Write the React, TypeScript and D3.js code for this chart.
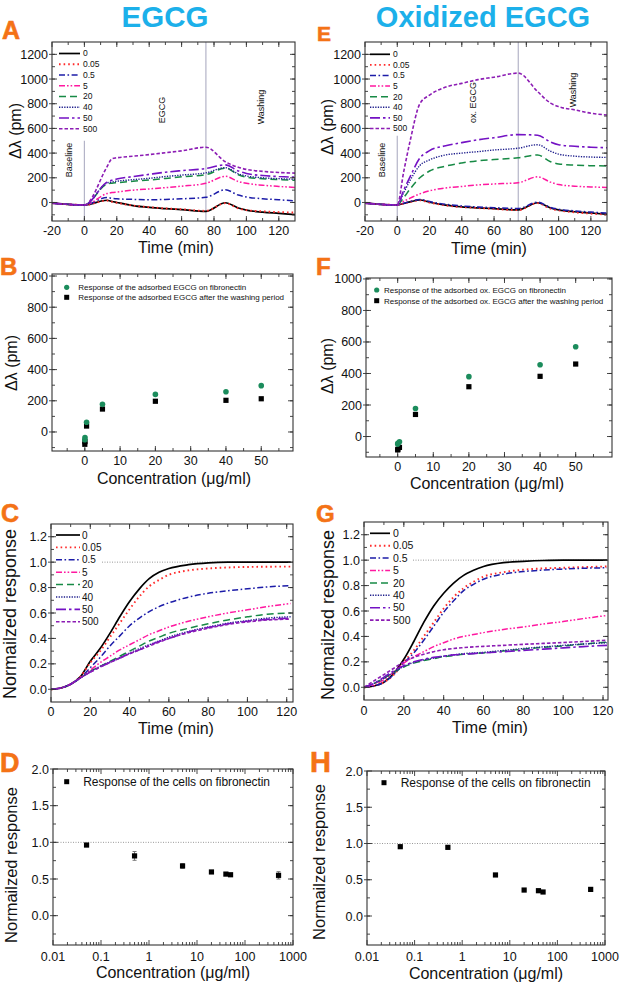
import React from 'react';
import * as d3 from 'd3';

const FONT = "'Liberation Sans', Arial, Helvetica, sans-serif";
const TITLE_COLOR = '#1cb0ea';
const LETTER_COLOR = '#f47216';

// ---- series styling (legend order) ----
const doseLabels = ['0', '0.05', '0.5', '5', '20', '40', '50', '500'];
const doseColors = ['#000000', '#ff2b2b', '#1c1ca8', '#ff18a0', '#178a45', '#1e1e8c', '#7412c4', '#8c1cb4'];
const doseDash = ['', '1.6,3', '6,2.5,1.6,2.5', '6,2,1.6,2,1.6,2', '7,4', '1.3,1.3', '10,3,2.5,3', '3.5,2'];
const doseWidth = [1.7, 1.9, 1.5, 1.5, 1.5, 1.4, 1.6, 1.6];

// ---- Panel A (EGCG, Δλ vs time) ----
const timeA = [-20, 0, 14, 17, 20, 30, 40, 50, 60, 75, 87, 95, 100, 110, 120, 130];
const a0 = [-5, -20, 18, 8, 0, -25, -40, -50, -58, -72, -2, -45, -62, -78, -88, -98];
const a005 = [-5, -20, 15, 6, -2, -25, -38, -48, -55, -68, -5, -48, -62, -72, -78, -82];
const a05 = [-5, -20, 40, 34, 30, 25, 22, 25, 30, 42, 103, 60, 45, 30, 22, 12];
const a5 = [-5, -20, 72, 80, 85, 100, 110, 120, 132, 155, 212, 170, 155, 140, 130, 122];
const a20 = [-5, -20, 150, 156, 160, 172, 182, 195, 208, 225, 278, 225, 205, 192, 185, 180];
const a40 = [-5, -20, 158, 166, 172, 185, 196, 210, 222, 240, 282, 232, 215, 200, 193, 188];
const a50 = [-5, -20, 165, 180, 190, 210, 228, 245, 258, 275, 305, 255, 235, 218, 210, 205];
const a500 = [-5, -20, 290, 355, 362, 375, 388, 403, 418, 448, 330, 285, 268, 252, 243, 238];
const seriesA = [a0, a005, a05, a5, a20, a40, a50, a500];

// ---- Panel E (oxidized EGCG, Δλ vs time) ----
const timeE = [-20, 0, 4, 8, 14, 20, 30, 40, 50, 60, 75, 87, 95, 100, 110, 120, 130];
const e0 = [-5, -20, -8, 5, 20, 2, -22, -35, -43, -50, -60, -2, -45, -60, -75, -85, -95];
const e005 = [-5, -20, -8, 4, 18, 0, -24, -37, -45, -52, -62, -5, -50, -64, -80, -90, -98];
const e05 = [-5, -20, -6, 8, 25, 8, -15, -28, -36, -42, -48, 2, -40, -55, -68, -78, -85];
const e5 = [-5, -20, 10, 35, 70, 95, 118, 130, 142, 150, 160, 208, 165, 145, 132, 126, 122];
const e20 = [-5, -20, 40, 110, 200, 255, 295, 320, 338, 348, 362, 385, 330, 312, 303, 298, 296];
const e40 = [-5, -20, 80, 180, 300, 345, 385, 400, 412, 425, 440, 468, 415, 392, 375, 368, 365];
const e50 = [-5, -20, 100, 210, 360, 420, 460, 485, 508, 525, 550, 545, 490, 468, 455, 448, 443];
const e500 = [-5, -20, 250, 500, 800, 870, 935, 965, 995, 1015, 1048, 898, 805, 776, 750, 723, 709];
const seriesE = [e0, e005, e05, e5, e20, e40, e50, e500];

// ---- Panels B / F (Δλ vs concentration) ----
const concBF = [0, 0.05, 0.5, 5, 20, 40, 50];
const bAdsorbed = [-50, -36, 62, 177, 241, 258, 297];
const bWashed = [-79, -62, 38, 147, 197, 203, 213];
const fAdsorbed = [-48, -43, -33, 178, 380, 455, 570];
const fWashed = [-85, -81, -69, 140, 316, 382, 460];
const legendB = ['Response of the adsorbed EGCG on fibronectin', 'Response of the adsorbed EGCG after the washing period'];
const legendF = ['Response of the adsorbed  ox. EGCG on fibronectin', 'Response of the adsorbed  ox. EGCG after the washing period'];

// ---- Panels C / G (normalized response vs time) ----
const timeCG = [0, 5, 10, 15, 20, 25, 30, 35, 40, 45, 50, 55, 60, 70, 80, 90, 100, 110, 122];
const c0 = [0, 0.01, 0.04, 0.1, 0.22, 0.32, 0.44, 0.57, 0.69, 0.79, 0.87, 0.92, 0.95, 0.98, 0.995, 1.0, 1.0, 1.0, 1.0];
const c005 = [0, 0.01, 0.04, 0.1, 0.21, 0.3, 0.41, 0.52, 0.63, 0.73, 0.81, 0.86, 0.9, 0.935, 0.95, 0.958, 0.962, 0.964, 0.965];
const c05 = [0, 0.01, 0.04, 0.09, 0.17, 0.25, 0.34, 0.42, 0.5, 0.56, 0.61, 0.65, 0.68, 0.725, 0.755, 0.775, 0.79, 0.805, 0.815];
const c5 = [0, 0.01, 0.04, 0.09, 0.15, 0.21, 0.26, 0.31, 0.35, 0.39, 0.43, 0.46, 0.49, 0.535, 0.57, 0.6, 0.625, 0.65, 0.675];
const c20 = [0, 0.01, 0.04, 0.09, 0.14, 0.18, 0.22, 0.26, 0.3, 0.34, 0.38, 0.41, 0.44, 0.48, 0.515, 0.545, 0.57, 0.59, 0.6];
const c40 = [0, 0.01, 0.04, 0.09, 0.14, 0.18, 0.215, 0.25, 0.285, 0.32, 0.35, 0.38, 0.41, 0.455, 0.49, 0.52, 0.54, 0.56, 0.57];
const c50 = [0, 0.01, 0.04, 0.09, 0.135, 0.175, 0.21, 0.245, 0.28, 0.31, 0.345, 0.375, 0.4, 0.45, 0.485, 0.515, 0.535, 0.55, 0.56];
const c500 = [0, 0.01, 0.04, 0.09, 0.135, 0.175, 0.21, 0.245, 0.28, 0.31, 0.34, 0.37, 0.4, 0.445, 0.48, 0.51, 0.53, 0.545, 0.552];
const seriesC = [c0, c005, c05, c5, c20, c40, c50, c500];

const g0 = [0, 0.01, 0.04, 0.11, 0.22, 0.36, 0.51, 0.64, 0.74, 0.82, 0.88, 0.92, 0.95, 0.98, 0.99, 0.997, 1.0, 1.0, 1.0];
const g005 = [0, 0.01, 0.04, 0.1, 0.2, 0.29, 0.4, 0.51, 0.62, 0.71, 0.78, 0.83, 0.87, 0.905, 0.925, 0.935, 0.94, 0.945, 0.95];
const g05 = [0, 0.01, 0.04, 0.1, 0.19, 0.27, 0.37, 0.48, 0.59, 0.68, 0.76, 0.81, 0.85, 0.89, 0.91, 0.922, 0.93, 0.936, 0.94];
const g5 = [0, 0.02, 0.06, 0.12, 0.19, 0.24, 0.28, 0.32, 0.35, 0.38, 0.4, 0.415, 0.43, 0.455, 0.475, 0.497, 0.517, 0.54, 0.565];
const g20 = [0, 0.03, 0.07, 0.12, 0.16, 0.19, 0.21, 0.225, 0.24, 0.25, 0.26, 0.265, 0.27, 0.285, 0.3, 0.315, 0.325, 0.34, 0.355];
const g40 = [0, 0.03, 0.07, 0.12, 0.165, 0.195, 0.215, 0.23, 0.245, 0.255, 0.265, 0.27, 0.275, 0.29, 0.305, 0.318, 0.33, 0.34, 0.35];
const g50 = [0, 0.03, 0.08, 0.13, 0.17, 0.2, 0.22, 0.235, 0.245, 0.255, 0.26, 0.265, 0.27, 0.28, 0.29, 0.3, 0.31, 0.32, 0.33];
const g500 = [0, 0.05, 0.1, 0.15, 0.2, 0.235, 0.26, 0.28, 0.295, 0.305, 0.312, 0.318, 0.322, 0.33, 0.338, 0.345, 0.352, 0.36, 0.37];
const seriesG = [g0, g005, g05, g5, g20, g40, g50, g500];

// ---- Panels D / H (normalized response vs concentration, log) ----
const concDH = [0.05, 0.5, 5, 20, 40, 50, 500];
const dValues = [0.963, 0.815, 0.678, 0.596, 0.567, 0.558, 0.55];
const dErrors = [0.02, 0.06, 0.03, 0.015, 0.02, 0.01, 0.05];
const hValues = [0.956, 0.947, 0.566, 0.358, 0.349, 0.331, 0.367];
const hErrors = [0.01, 0.01, 0.01, 0.01, 0.01, 0.01, 0.01];
const legendDH = ['Response of the cells on fibronectin', 'Response of the cells on  fibronectin'];

const logTicks = [0.01, 0.1, 1, 10, 100, 1000];

type Box = { l: number; r: number; t: number; b: number };

function range(a: number, b: number, s: number) {
  return d3.range(Math.round(a / s), Math.round(b / s) + 1).map((k) => +(k * s).toFixed(6));
}

function Frame({ x, y, box, xMajor, xMinor, yMajor, yMinor, xFmt, yFmt, xOff }: any) {
  const M = 5, m = 3;
  const tk: any[] = [];
  xMajor.forEach((v: number, i: number) => {
    const p = x(v);
    tk.push(<line key={'xb' + i} x1={p} x2={p} y1={box.b} y2={box.b - M} />);
    tk.push(<line key={'xt' + i} x1={p} x2={p} y1={box.t} y2={box.t + M} />);
  });
  xMinor.forEach((v: number, i: number) => {
    const p = x(v);
    if (p < box.l + 0.5 || p > box.r - 0.5) return;
    tk.push(<line key={'xbm' + i} x1={p} x2={p} y1={box.b} y2={box.b - m} />);
    tk.push(<line key={'xtm' + i} x1={p} x2={p} y1={box.t} y2={box.t + m} />);
  });
  yMajor.forEach((v: number, i: number) => {
    const p = y(v);
    tk.push(<line key={'yl' + i} x1={box.l - 3} x2={box.l + M} y1={p} y2={p} />);
    tk.push(<line key={'yr' + i} x1={box.r} x2={box.r - M} y1={p} y2={p} />);
  });
  yMinor.forEach((v: number, i: number) => {
    const p = y(v);
    if (p < box.t + 0.5 || p > box.b - 0.5) return;
    tk.push(<line key={'ylm' + i} x1={box.l} x2={box.l + m} y1={p} y2={p} />);
    tk.push(<line key={'yrm' + i} x1={box.r} x2={box.r - m} y1={p} y2={p} />);
  });
  return (
    <g>
      <g stroke="#333" strokeWidth={0.9}>{tk}</g>
      <rect x={box.l} y={box.t} width={box.r - box.l} height={box.b - box.t} fill="none" stroke="#333" strokeWidth={1.1} />
      <g fontFamily={FONT} fontSize={12.5} fill="#111">
        {xMajor.map((v: number, i: number) => (
          <text key={'xl' + i} x={x(v)} y={box.b + xOff} textAnchor="middle">{xFmt(v)}</text>
        ))}
        {yMajor.map((v: number, i: number) => (
          <text key={'yl' + i} x={box.l - 4} y={y(v)} dy="0.36em" textAnchor="end">{yFmt(v)}</text>
        ))}
      </g>
    </g>
  );
}

function Clip({ id, box }: { id: string; box: Box }) {
  return (
    <defs>
      <clipPath id={id}>
        <rect x={box.l} y={box.t} width={box.r - box.l} height={box.b - box.t} />
      </clipPath>
    </defs>
  );
}

function VText({ x, y, size, children, weight }: any) {
  return (
    <text transform={`translate(${x},${y}) rotate(-90)`} textAnchor="middle" dy="0.35em" fontSize={size} fontFamily={FONT} fontWeight={weight || 'normal'} fill="#111">
      {children}
    </text>
  );
}

function DoseLegend({ x0, x1, tx, y0, step, fs }: any) {
  return (
    <g>
      {doseLabels.map((lab, i) => (
        <g key={lab}>
          <line x1={x0} x2={x1} y1={y0 + i * step} y2={y0 + i * step} stroke={doseColors[i]} strokeWidth={doseWidth[i]} strokeDasharray={doseDash[i]} />
          <text x={tx} y={y0 + i * step} dy="0.35em" fontSize={fs} fontFamily={FONT} fill="#111">{lab}</text>
        </g>
      ))}
    </g>
  );
}

function ShiftPanel({ id, box, times, series, stimTop, annX, annLabel, annY, washY, baseY, legend }: any) {
  const x = d3.scaleLinear().domain([-20, 130]).range([box.l, box.r]);
  const y = d3.scaleLinear().domain([-150, 1300]).range([box.b, box.t]);
  const line = d3.line<number>().x((_, i) => x(times[i])).y((d) => y(d)).curve(d3.curveMonotoneX);
  return (
    <g>
      <Clip id={id} box={box} />
      <line x1={x(0)} x2={x(0)} y1={y(stimTop)} y2={box.b} stroke="#b4b4c8" strokeWidth={1.2} />
      <line x1={x(75)} x2={x(75)} y1={box.t} y2={box.b} stroke="#b4b4c8" strokeWidth={1.2} />
      <g clipPath={`url(#${id})`}>
        {series.map((s: number[], i: number) => (
          <path key={i} d={line(s) || ''} fill="none" stroke={doseColors[i]} strokeWidth={doseWidth[i]} strokeDasharray={doseDash[i]} />
        ))}
      </g>
      <VText x={x(-9.5)} y={baseY} size={9}>Baseline</VText>
      <VText x={x(annX)} y={annY} size={9}>{annLabel}</VText>
      <VText x={x(109)} y={washY} size={9}>Washing</VText>
      <Frame x={x} y={y} box={box} xMajor={range(-20, 120, 20)} xMinor={range(-20, 130, 10)} yMajor={range(0, 1200, 200)} yMinor={range(-100, 1300, 100)} xFmt={(v: number) => String(v)} yFmt={(v: number) => String(v)} xOff={13.5} />
      <DoseLegend {...legend} />
    </g>
  );
}

function ConcPanel({ box, xDomain, yDomain, adsorbed, washed, texts, mx, tx, ty0, ty1, tw }: any) {
  const x = d3.scaleLinear().domain(xDomain).range([box.l, box.r]);
  const y = d3.scaleLinear().domain(yDomain).range([box.b, box.t]);
  const green = '#1b8c5c';
  return (
    <g>
      {washed.map((v: number, i: number) => (
        <rect key={'w' + i} x={x(concBF[i]) - 2.6} y={y(v) - 2.6} width={5.2} height={5.2} fill="#000" />
      ))}
      {adsorbed.map((v: number, i: number) => (
        <circle key={'a' + i} cx={x(concBF[i])} cy={y(v)} r={2.8} fill={green} />
      ))}
      <Frame x={x} y={y} box={box} xMajor={range(0, 50, 10)} xMinor={range(-5, 55, 5)} yMajor={range(0, 1000, 200)} yMinor={range(-100, 1000, 100)} xFmt={(v: number) => String(v)} yFmt={(v: number) => String(v)} xOff={13.5} />
      <circle cx={mx} cy={ty0} r={2.6} fill={green} />
      <rect x={mx - 2.5} y={ty1 - 2.5} width={5} height={5} fill="#000" />
      <text x={tx} y={ty0} dy="0.35em" fontSize={8} fontFamily={FONT} fill="#111" textLength={tw[0]} lengthAdjust="spacing">{texts[0]}</text>
      <text x={tx} y={ty1} dy="0.35em" fontSize={8} fontFamily={FONT} fill="#111" textLength={tw[1]} lengthAdjust="spacing">{texts[1]}</text>
    </g>
  );
}

function NormPanel({ id, box, xMax, series, legend }: any) {
  const x = d3.scaleLinear().domain([0, xMax]).range([box.l, box.r]);
  const y = d3.scaleLinear().domain([-0.1, 1.3]).range([box.b, box.t]);
  const line = d3.line<number>().x((_, i) => x(timeCG[i])).y((d) => y(d)).curve(d3.curveMonotoneX);
  return (
    <g>
      <Clip id={id} box={box} />
      <line x1={legend.tx + 20} x2={box.r} y1={y(1)} y2={y(1)} stroke="#999" strokeWidth={1} strokeDasharray="1,1.5" />
      <g clipPath={`url(#${id})`}>
        {series.map((s: number[], i: number) => (
          <path key={i} d={line(s) || ''} fill="none" stroke={doseColors[i]} strokeWidth={doseWidth[i]} strokeDasharray={doseDash[i]} />
        ))}
      </g>
      <Frame x={x} y={y} box={box} xMajor={range(0, 120, 20)} xMinor={range(0, 120, 10)} yMajor={range(0, 1.2, 0.2)} yMinor={range(-0.1, 1.3, 0.1)} xFmt={(v: number) => String(v)} yFmt={(v: number) => v.toFixed(1)} xOff={legend.xOff} />
      <DoseLegend {...legend} />
    </g>
  );
}

function LogPanel({ box, values, errors, text, mx, my, tx, tw }: any) {
  const x = d3.scaleLog().domain([0.01, 1000]).range([box.l, box.r]);
  const y = d3.scaleLinear().domain([-0.4, 2.0]).range([box.b, box.t]);
  const minor: number[] = [];
  logTicks.slice(0, -1).forEach((d) => { for (let k = 2; k <= 9; k++) minor.push(d * k); });
  return (
    <g>
      <line x1={box.l} x2={box.r} y1={y(1)} y2={y(1)} stroke="#999" strokeWidth={1} strokeDasharray="1,1.5" />
      {values.map((v: number, i: number) => (
        <g key={i} stroke="#777" strokeWidth={1}>
          <line x1={x(concDH[i])} x2={x(concDH[i])} y1={y(v - errors[i])} y2={y(v + errors[i])} />
          <line x1={x(concDH[i]) - 2} x2={x(concDH[i]) + 2} y1={y(v - errors[i])} y2={y(v - errors[i])} />
          <line x1={x(concDH[i]) - 2} x2={x(concDH[i]) + 2} y1={y(v + errors[i])} y2={y(v + errors[i])} />
        </g>
      ))}
      {values.map((v: number, i: number) => (
        <rect key={'p' + i} x={x(concDH[i]) - 2.6} y={y(v) - 2.6} width={5.2} height={5.2} fill="#000" />
      ))}
      <Frame x={x} y={y} box={box} xMajor={logTicks} xMinor={minor} yMajor={range(0, 2, 0.5)} yMinor={range(-0.25, 2, 0.25)} xFmt={(v: number) => String(v)} yFmt={(v: number) => v.toFixed(1)} xOff={16} />
      <rect x={mx - 2.5} y={my - 2.5} width={5} height={5} fill="#000" />
      <text x={tx} y={my} dy="0.35em" fontSize={12} fontFamily={FONT} fill="#111" textLength={tw} lengthAdjust="spacing">{text}</text>
    </g>
  );
}

function Letter({ x, y, size, children }: any) {
  return (
    <text x={x} y={y} fontSize={size} fontWeight="bold" fontFamily={FONT} fill={LETTER_COLOR} stroke={LETTER_COLOR} strokeWidth={0.6}>{children}</text>
  );
}

function XTitle({ x, y, children }: any) {
  return <text x={x} y={y} textAnchor="middle" fontSize={16} fontFamily={FONT} fill="#111">{children}</text>;
}

export default function App() {
  const boxA: Box = { l: 52, r: 295, t: 42, b: 221 };
  const boxE: Box = { l: 365, r: 607, t: 42, b: 221 };
  const boxB: Box = { l: 52, r: 293, t: 274, b: 451 };
  const boxF: Box = { l: 366, r: 612, t: 278, b: 457 };
  const boxC: Box = { l: 51, r: 293, t: 524, b: 702 };
  const boxG: Box = { l: 364, r: 608, t: 522, b: 700 };
  const boxD: Box = { l: 53, r: 293, t: 769, b: 945 };
  const boxH: Box = { l: 367, r: 605, t: 771, b: 945 };
  return (
    <svg width={620} height={983} viewBox="0 0 620 983" style={{ position: 'absolute', left: 0, top: 0, display: 'block' }}>
      <rect x={0} y={0} width={620} height={983} fill="#fff" />
      <text x={165} y={26.5} textAnchor="middle" fontSize={29.5} fontWeight="bold" fontFamily={FONT} fill={TITLE_COLOR}>EGCG</text>
      <text x={483} y={26.5} textAnchor="middle" fontSize={29} fontWeight="bold" fontFamily={FONT} fill={TITLE_COLOR}>Oxidized EGCG</text>

      <Letter x={2} y={38.5} size={25}>A</Letter>
      <Letter x={317} y={40.5} size={21}>E</Letter>
      <Letter x={0} y={275} size={24}>B</Letter>
      <Letter x={316} y={275} size={24}>F</Letter>
      <Letter x={1} y={522} size={25}>C</Letter>
      <Letter x={316} y={521.5} size={24}>G</Letter>
      <Letter x={0} y={772} size={27}>D</Letter>
      <Letter x={310} y={771.5} size={29}>H</Letter>

      <ShiftPanel id="clipA" box={boxA} times={timeA} series={seriesA} stimTop={500} annX={48} annLabel="EGCG" annY={110} washY={107} baseY={160}
        legend={{ x0: 59, x1: 80, tx: 83, y0: 53.5, step: 10.75, fs: 8.5 }} />
      <ShiftPanel id="clipE" box={boxE} times={timeE} series={seriesE} stimTop={540} annX={47} annLabel="ox. EGCG" annY={102.5} washY={90} baseY={160}
        legend={{ x0: 370, x1: 390, tx: 393, y0: 54.3, step: 10.6, fs: 8.5 }} />
      <VText x={15} y={131} size={16}>Δλ (pm)</VText>
      <VText x={327} y={127} size={16}>Δλ (pm)</VText>
      <XTitle x={176} y={253}>Time (min)</XTitle>
      <XTitle x={489} y={254}>Time (min)</XTitle>

      <ConcPanel box={boxB} xDomain={[-9.3, 59]} yDomain={[-122, 1013]} adsorbed={bAdsorbed} washed={bWashed} texts={legendB}
        mx={66.7} tx={78.3} ty0={287.3} ty1={297.3} tw={[168, 205.7]} />
      <ConcPanel box={boxF} xDomain={[-8.9, 60.2]} yDomain={[-130, 1006]} adsorbed={fAdsorbed} washed={fWashed} texts={legendF}
        mx={376.7} tx={384} ty0={290} ty1={300.7} tw={[182, 219.3]} />
      <VText x={11} y={363} size={16}>Δλ (pm)</VText>
      <VText x={327} y={366} size={16}>Δλ (pm)</VText>
      <XTitle x={174} y={484}>Concentration (μg/ml)</XTitle>
      <XTitle x={487} y={489}>Concentration (μg/ml)</XTitle>

      <NormPanel id="clipC" box={boxC} xMax={123.2} series={seriesC}
        legend={{ x0: 56, x1: 80, tx: 82, y0: 535, step: 12.4, fs: 10, xOff: 13.5 }} />
      <NormPanel id="clipG" box={boxG} xMax={122.5} series={seriesG}
        legend={{ x0: 370, x1: 390, tx: 393, y0: 533.3, step: 12.4, fs: 10.5, xOff: 15 }} />
      <VText x={10} y={614} size={18}>Normailzed response</VText>
      <VText x={327.5} y={615} size={18}>Normailzed response</VText>
      <XTitle x={176} y={734}>Time (min)</XTitle>
      <XTitle x={490} y={732.5}>Time (min)</XTitle>

      <LogPanel box={boxD} values={dValues} errors={dErrors} text={legendDH[0]} mx={66.7} my={781.7} tx={83.3} tw={186.7} />
      <LogPanel box={boxH} values={hValues} errors={hErrors} text={legendDH[1]} mx={384} my={782.7} tx={400.7} tw={190} />
      <VText x={11} y={865} size={16.5}>Normailzed response</VText>
      <VText x={319} y={862} size={16.5}>Normailzed response</VText>
      <XTitle x={173} y={977.5}>Concentration (μg/ml)</XTitle>
      <XTitle x={486} y={978.5}>Concentration (μg/ml)</XTitle>
    </svg>
  );
}
